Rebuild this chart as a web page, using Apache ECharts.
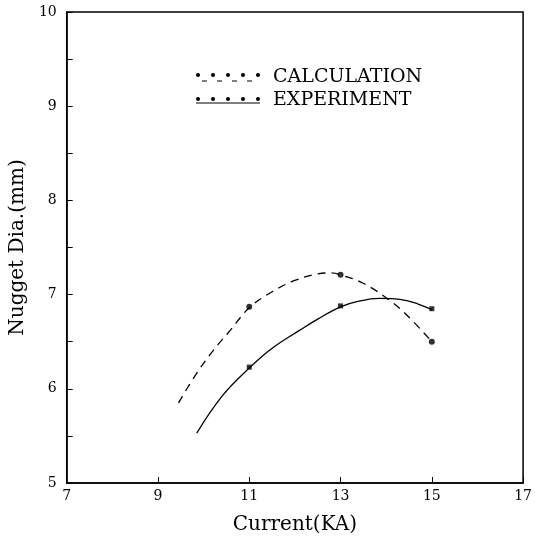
<!DOCTYPE html>
<html>
<head>
<meta charset="utf-8">
<script src="https://cdn.jsdelivr.net/npm/echarts@6/dist/echarts.min.js"></script>
<style>
  html, body { margin: 0; padding: 0; background: #fff; }
  #chart { width: 535px; height: 540px; }
</style>
</head>
<body>
<div id="chart"></div>
<script>
(function(){

  // fitted curves
  var calcCurveX = [9.45, 9.8, 10.2, 10.6, 11.0, 11.5, 12.0, 12.5, 12.8, 13.0, 13.5, 14.1, 14.5, 15.0];
  var calcCurveY = [5.85, 6.13, 6.40, 6.63, 6.86, 7.03, 7.15, 7.22, 7.23, 7.21, 7.12, 6.93, 6.76, 6.50];
  var expCurveX = [9.85, 10.4, 11.0, 11.5, 12.1, 12.5, 13.0, 13.4, 13.85, 14.3, 14.7, 15.0];
  var expCurveY = [5.53, 5.92, 6.22, 6.43, 6.62, 6.74, 6.87, 6.93, 6.96, 6.95, 6.90, 6.84];

  // measured points
  var pointX = [11, 13, 15];
  var calcPoints = [6.87, 7.21, 6.50];
  var expPoints = [6.23, 6.88, 6.85];

  var legendNames = ['CALCULATION', 'EXPERIMENT'];
  var xTicks = [7, 9, 11, 13, 15, 17];

  function pairs(xs, ys){
    return xs.map(function(x, i){ return [x, ys[i]]; });
  }

  var serif = "'DejaVu Serif', 'Liberation Serif', serif";
  var chartDom = document.getElementById('chart');
  var myChart = echarts.init(chartDom, null, { renderer: 'canvas' });

  // legend drawn by hand: dots over a dashed line / dots over a solid line
  var legendGraphics = [];
  var dotsX = [198, 213, 228, 243, 258];
  dotsX.forEach(function(x){
    legendGraphics.push({ type: 'circle', shape: { cx: x, cy: 75, r: 2 }, style: { fill: '#000' } });
    legendGraphics.push({ type: 'circle', shape: { cx: x, cy: 99, r: 2 }, style: { fill: '#000' } });
  });
  legendGraphics.push({ type: 'line', shape: { x1: 202, y1: 81, x2: 258, y2: 81 }, style: { stroke: '#000', lineWidth: 1.2, lineDash: [5, 10] } });
  legendGraphics.push({ type: 'line', shape: { x1: 196, y1: 103, x2: 260, y2: 103 }, style: { stroke: '#000', lineWidth: 1.2 } });
  legendGraphics.push({ type: 'text', left: 273, top: 68, style: { text: legendNames[0], font: '19px ' + serif, fill: '#000' } });
  legendGraphics.push({ type: 'text', left: 273, top: 91, style: { text: legendNames[1], font: '19px ' + serif, fill: '#000' } });

  var option = {
    animation: false,
    backgroundColor: '#fff',
    grid: { left: 65, right: 9, top: 12, bottom: 53, show: true, borderColor: '#000', borderWidth: 1.5 },
    xAxis: {
      type: 'value', min: xTicks[0], max: xTicks[xTicks.length - 1], interval: 2,
      name: 'Current(KA)', nameLocation: 'middle', nameGap: 32,
      nameTextStyle: { fontFamily: serif, fontSize: 20, color: '#000' },
      axisLine: { lineStyle: { color: '#000', width: 1.5 } },
      axisTick: { inside: true, length: 6, lineStyle: { color: '#000' } },
      axisLabel: { color: '#000', fontSize: 14, fontFamily: serif, margin: 6 },
      splitLine: { show: false }
    },
    yAxis: {
      type: 'value', min: 5, max: 10, interval: 0.5,
      name: 'Nugget Dia.(mm)', nameLocation: 'middle', nameGap: 38, nameRotate: 90,
      nameTextStyle: { fontFamily: serif, fontSize: 20, color: '#000' },
      axisLine: { lineStyle: { color: '#000', width: 1.5 } },
      axisTick: { inside: true, length: 6, lineStyle: { color: '#000' } },
      axisLabel: {
        color: '#000', fontSize: 14, fontFamily: serif, margin: 10,
        formatter: function(v){ return v % 1 === 0 ? String(v) : ''; }
      },
      splitLine: { show: false }
    },
    graphic: legendGraphics,
    series: [
      {
        name: legendNames[0], type: 'line', smooth: 0.4, showSymbol: false,
        data: pairs(calcCurveX, calcCurveY),
        lineStyle: { color: '#000', width: 1.3, type: [8, 6] }
      },
      {
        name: legendNames[1], type: 'line', smooth: 0.4, showSymbol: false,
        data: pairs(expCurveX, expCurveY),
        lineStyle: { color: '#000', width: 1.3 }
      },
      {
        type: 'scatter', symbol: 'circle', symbolSize: 6,
        data: pairs(pointX, calcPoints),
        itemStyle: { color: '#000' }
      },
      {
        type: 'scatter', symbol: 'rect', symbolSize: 5,
        data: pairs(pointX, expPoints),
        itemStyle: { color: '#000' }
      }
    ]
  };

  option && myChart.setOption(option);

})();
</script>
</body>
</html>
